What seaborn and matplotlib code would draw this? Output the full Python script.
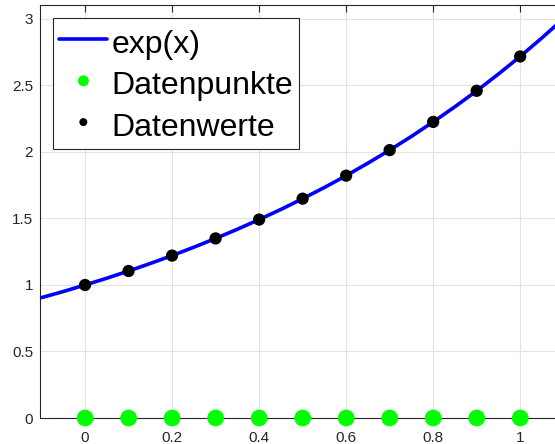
import numpy as np
import pandas as pd
import matplotlib
matplotlib.use("Agg")
import matplotlib.pyplot as plt
import seaborn as sns

# data
x_points = [0.0, 0.1, 0.2, 0.3, 0.4, 0.5, 0.6, 0.7, 0.8, 0.9, 1.0]
y_values = [1.000, 1.105, 1.221, 1.350, 1.492, 1.649, 1.822, 2.014, 2.226, 2.460, 2.718]
y_zero = [0, 0, 0, 0, 0, 0, 0, 0, 0, 0, 0]
curve_x = [-0.1, -0.05, 0.0, 0.05, 0.1, 0.15, 0.2, 0.25, 0.3, 0.35, 0.4, 0.45, 0.5, 0.55,
           0.6, 0.65, 0.7, 0.75, 0.8, 0.85, 0.9, 0.95, 1.0, 1.05, 1.1]
curve_y = [0.905, 0.951, 1.000, 1.051, 1.105, 1.162, 1.221, 1.284, 1.350, 1.419, 1.492,
           1.568, 1.649, 1.733, 1.822, 1.916, 2.014, 2.117, 2.226, 2.340, 2.460, 2.586,
           2.718, 2.858, 3.004]
x_ticks = [0, 0.2, 0.4, 0.6, 0.8, 1]
x_ticklabels = ["0", "0.2", "0.4", "0.6", "0.8", "1"]
y_ticks = [0, 0.5, 1, 1.5, 2, 2.5, 3]
y_ticklabels = ["0", "0.5", "1", "1.5", "2", "2.5", "3"]

sns.set_style("white")
plt.rcParams['font.family'] = ['Liberation Sans', 'DejaVu Sans']

fig = plt.figure(figsize=(5.55, 4.44), dpi=100)
W, H = 555, 444
x0, x1 = 40, 555
y0, y1 = 418, 5
ax = fig.add_axes([x0 / W, (H - y0) / H, (x1 - x0) / W, (y0 - y1) / H])

curve_df = pd.DataFrame({"x": curve_x, "y": curve_y})
pts_df = pd.DataFrame({"x": x_points, "y": y_values, "z": y_zero})

sns.lineplot(data=curve_df, x="x", y="y", ax=ax, color=(0, 0, 1), lw=2.6, label="exp(x)",
             zorder=3)
sns.scatterplot(data=pts_df, x="x", y="z", ax=ax, color=(0, 1, 0), s=145, edgecolor="none",
                label="Datenpunkte", clip_on=False, zorder=4)
sns.scatterplot(data=pts_df, x="x", y="y", ax=ax, color="black", s=78, edgecolor="none",
                label="Datenwerte", zorder=5)

ax.set_xlim(-0.1035, 1.08)
ax.set_ylim(0, 3.105)
ax.set_xticks(x_ticks)
ax.set_xticklabels(x_ticklabels)
ax.set_yticks(y_ticks)
ax.set_yticklabels(y_ticklabels)
ax.set_xlabel("")
ax.set_ylabel("")
ax.grid(True, color="#e3e3e3", lw=0.8)
ax.set_axisbelow(True)
for s in ["left", "bottom", "top"]:
    ax.spines[s].set_color("#262626")
    ax.spines[s].set_linewidth(0.8)
ax.spines["right"].set_visible(False)
ax.tick_params(axis="both", direction="in", length=5, width=0.8, color="#262626",
               labelsize=11, labelcolor="#262626", top=True)
ax.tick_params(axis="x", pad=9)
ax.tick_params(axis="y", pad=5)

leg = ax.legend(loc="upper left", bbox_to_anchor=(13 / 515, 1 - 13 / 413), fontsize=23,
                frameon=True, fancybox=False, edgecolor="#262626", framealpha=1,
                borderpad=0.2, labelspacing=0.17, handlelength=1.5, handletextpad=0.12,
                handleheight=1.35, borderaxespad=0, markerscale=0.65, labelcolor="black")
leg.get_frame().set_linewidth(0.8)

fig.savefig("out.png", dpi=100)
